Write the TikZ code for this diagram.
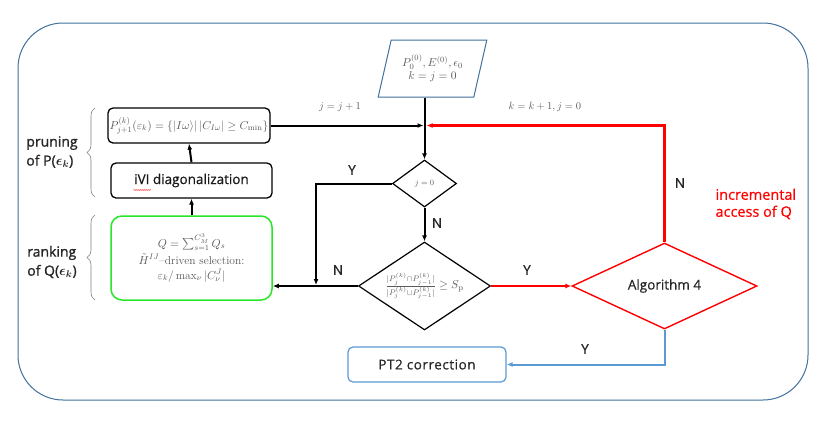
\RequirePackage{fix-cm}
\documentclass[tikz,border=0pt]{standalone}
\usepackage{amsmath,amssymb,bm}
\usepackage{fontspec}
\setsansfont{Open Sans}
\newfontfamily\labelfont{Open Sans}[FakeBold=0.5]
\newfontfamily\sidefont{Open Sans}[FakeBold=1.2]
\usetikzlibrary{arrows.meta,shapes.geometric,decorations.pathreplacing,decorations.pathmorphing}
\definecolor{frameblue}{RGB}{65,113,156}
\definecolor{lightblue}{RGB}{91,155,213}
\definecolor{mathgray}{RGB}{90,90,90}
\definecolor{brightgreen}{RGB}{40,230,40}
\definecolor{pured}{RGB}{255,0,0}
\begin{document}
\begin{tikzpicture}[x=1pt,y=-1pt,
  every node/.style={font=\sffamily},
  blkbox/.style={draw=black, line width=1.3pt, rounded corners=5pt, fill=white, inner sep=1pt},
  arr/.style={-{Latex[length=6pt,width=5pt]}, line width=2pt, draw=black},
  redarr/.style={-{Latex[length=6pt,width=5pt]}, line width=2.2pt, draw=pured},
  bluearr/.style={-{Latex[length=6pt,width=5pt]}, line width=2pt, draw=lightblue},
  mathfont/.style={text=mathgray, font=\fontsize{11.5}{14}\selectfont},
  mtext/.style={text=mathgray, font=\fontsize{10.5}{12}\selectfont},
  lbl/.style={font=\labelfont\fontsize{13.5}{15}\selectfont, text=black!85},
  sidelbl/.style={font=\sidefont\fontsize{14}{19}\selectfont, align=left, text=black!85},
  bracestyle/.style={draw=gray, line width=0.6pt, decorate, decoration={brace, amplitude=8pt}}
]
\useasboundingbox (0,0) rectangle (830,424);
\fill[white] (0,0) rectangle (830,424);
% outer frame
\draw[frameblue, line width=1pt, rounded corners=45pt] (18,23) rectangle (808,400);

% nodes
\node[trapezium, trapezium left angle=70.7, trapezium right angle=109.3, trapezium stretches=true,
      draw=frameblue, line width=1pt, minimum width=109, minimum height=57, inner sep=0pt,
      align=center, mathfont] (init) at (432.5,68.5)
      {$P_0^{(0)}, E^{(0)}, \epsilon_0$\\[-1pt]$k=j=0$};

\node[blkbox, minimum width=162, minimum height=35, mathfont] (P) at (189,125.5)
  {$P_{j+1}^{(k)}(\varepsilon_k)=\{|I\omega\rangle|\,|C_{I\omega}|\geq C_{\min}\}$};

\node[blkbox, minimum width=161, minimum height=35, font=\labelfont\fontsize{13.5}{15}\selectfont, text=black!90] (ivi) at (191.5,180.5)
  {iVI diagonalization};

\node[draw=brightgreen, line width=1.5pt, rounded corners=11pt, minimum width=161, minimum height=84,
      align=center, mathfont, inner sep=1pt] (Q) at (191.5,258)
  {$Q=\sum_{s=1}^{C_M^3} Q_s$\\[3pt]$\tilde{H}^{IJ}$--driven selection:\\[1pt]$\varepsilon_k/\max_\nu|C_\nu^J|$};

\node[diamond, draw=black, line width=1.2pt, minimum width=64, minimum height=47, inner sep=0pt,
      text=mathgray, font=\footnotesize] (jz) at (424.5,183.5) {$j=0$};

\node[diamond, draw=black, line width=1.2pt, minimum width=132, minimum height=88, inner sep=0pt,
      shape aspect=1.6, mathfont] (big) at (424.5,286)
  {$\frac{|P_j^{(k)}\cap P_{j-1}^{(k)}|}{|P_j^{(k)}\cup P_{j-1}^{(k)}|}\geq S_{\mathrm{p}}$};

\node[diamond, draw=pured, line width=1.4pt, minimum width=185, minimum height=86, inner sep=0pt,
      shape aspect=2.2, lbl] (alg) at (664.5,286) {Algorithm 4};

\node[draw=lightblue, line width=1.2pt, rounded corners=5pt, minimum width=158, minimum height=35,
      font=\labelfont\fontsize{13.5}{15}\selectfont\addfontfeature{LetterSpace=4}, text=black!85]
  (pt2) at (427,364.5) {PT2 correction};

% spell-check squiggle under iVI
\draw[pured, line width=0.4pt, decorate, decoration={snake, amplitude=0.5pt, segment length=2pt}]
  (133.5,190) -- (151,190);

% coordinates
\coordinate (mj) at (424.5,125.5);
\coordinate (nj) at (316,286);

% connectors
\draw[arr] (Q.north) -- (ivi.south);
\draw[arr] (ivi.north) -- (P.south);
\draw[line width=2pt] (init.south -| jz.north) -- (mj);
\draw[arr] (mj) -- (jz.north);
\draw[arr] (P.east) -- ([xshift=-1pt]mj);
\draw[redarr] (alg.north) |- ([xshift=2pt]mj);
\draw[arr] (jz.west) -| ([yshift=1pt]nj);
\draw[arr] (jz.south) -- (big.north);
\draw[arr] (big.west) -- (big.west -| Q.east);
\draw[redarr] (big.east) -- (alg.west);
\draw[bluearr] (alg.south) |- (pt2.east);

% edge labels
\node[mtext] (l1) at (340,107) {$j=j+1$};
\node[mtext] (l2) at (545,107) {$k=k+1, j=0$};
\node[lbl] (y1) at (352,170) {Y};
\node[lbl] (n1) at (437,223) {N};
\node[lbl] (n2) at (338,270) {N};
\node[lbl] (y2) at (527,270) {Y};
\node[lbl] (n3) at (680,183) {N};
\node[lbl] (y3) at (585,349) {Y};
\node[font=\labelfont\fontsize{14.5}{17}\selectfont, align=left, text=pured, anchor=west] (inc) at (712,204) {incremental\\access of Q};

% side braces and labels
\draw[bracestyle] (95,197) -- (95,108);
\draw[bracestyle] (95,300) -- (95,215);
\node[sidelbl] (prune) at (52,152) {pruning\\of P($\bm{\epsilon_k}$)};
\node[sidelbl] (rank) at (52,262) {ranking\\of Q($\bm{\epsilon_k}$)};
\end{tikzpicture}
\end{document}
